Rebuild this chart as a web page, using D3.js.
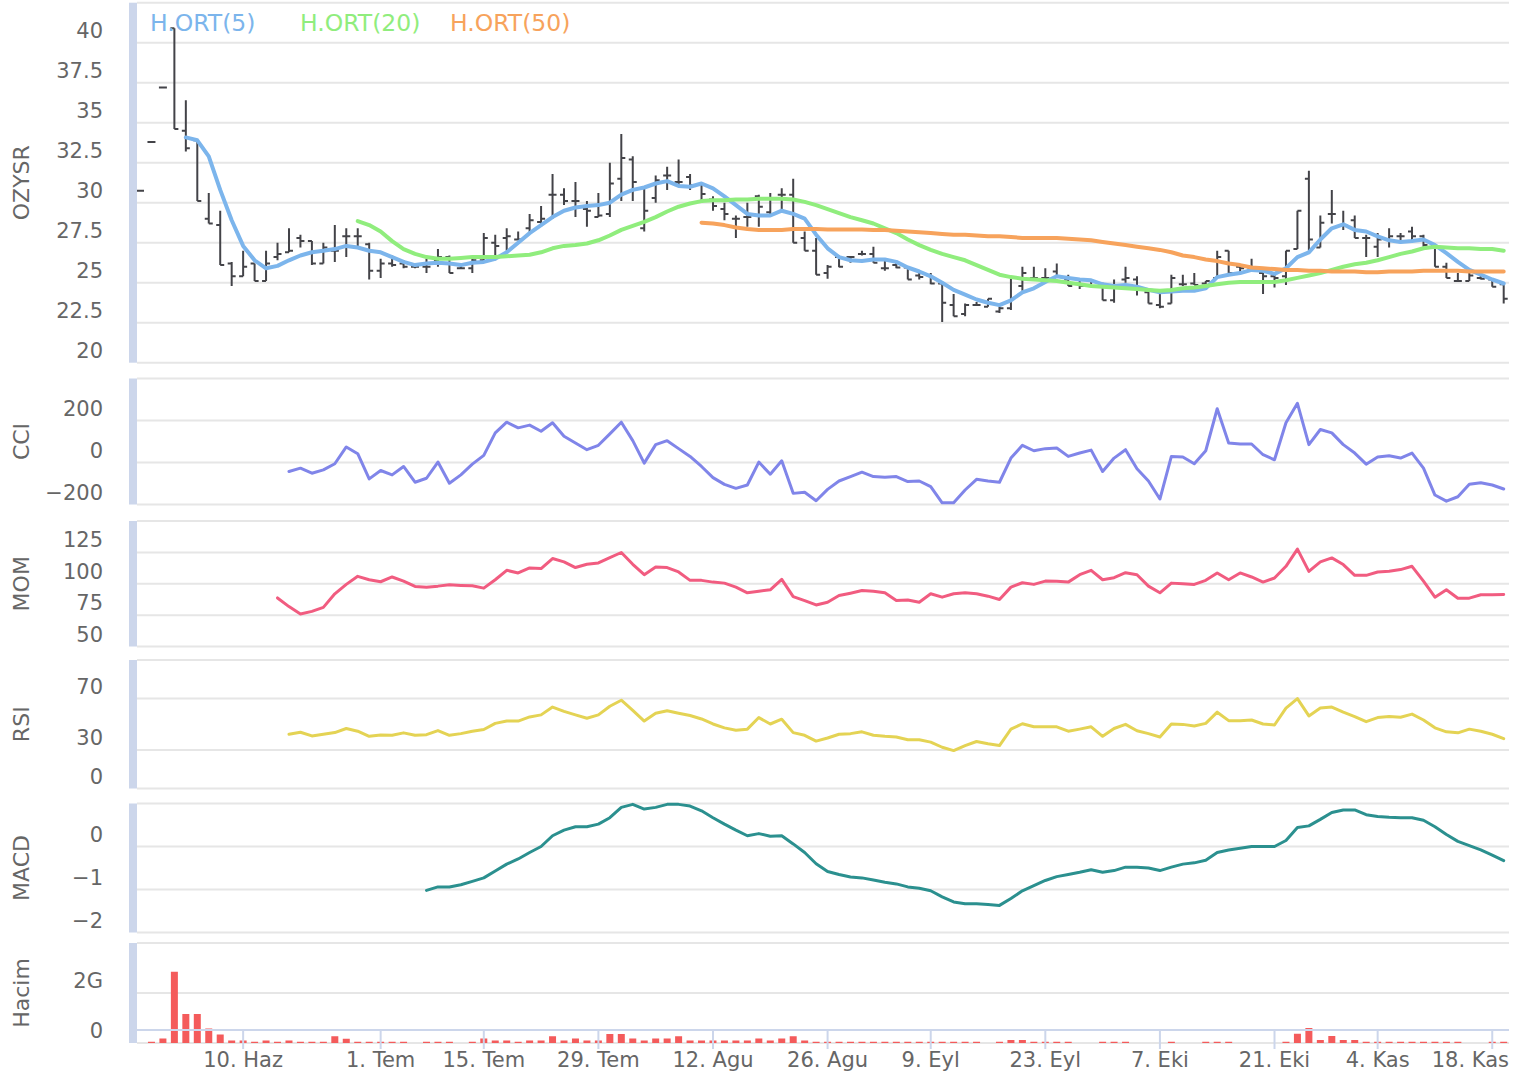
<!DOCTYPE html>
<html>
<head>
<meta charset="utf-8">
<script src="https://cdn.jsdelivr.net/npm/d3@7"></script>
<style>
  html, body { margin: 0; padding: 0; background: #fff; }
  svg { display: block; font-family: "DejaVu Sans", Verdana, sans-serif; }
</style>
</head>
<body>
<svg id="chart" width="1517" height="1073"></svg>
<script>
// x axis: trading day index -> label
const tickIndex = [9, 21, 30, 40, 50, 60, 69, 79, 89, 99, 108, 118];
const tickLabels = ['10. Haz', '1. Tem', '15. Tem', '29. Tem', '12. Agu', '26. Agu',
  '9. Eyl', '23. Eyl', '7. Eki', '21. Eki', '4. Kas', '18. Kas'];

// OZYSR daily OHLC (120 trading days)
const open = [30.75,33.8,37.2,40.9,34.5,33.9,29.0,28.6,26.2,25.4, 26.2,25.1,26.6,26.9,27.8,27.6,26.2,27.0,27.9,27.9,
  27.4,25.75,26.2,26.2,26.0,26.0,26.4,26.6,25.9,25.9, 26.4,27.5,27.8,27.7,28.4,28.8,30.5,30.5,30.1,29.6,
  29.1,29.3,31.5,32.7,28.4,30.3,31.7,31.3,31.6,31.1, 30.2,29.6,29.0,29.1,30.4,29.4,30.5,30.5,27.8,27.0,
  25.6,26.6,26.6,26.8,26.8,25.9,26.1,25.95,25.45,25.45, 24.95,23.6,23.05,23.6,23.5,23.2,23.4,24.8,25.3,25.3,
  25.7,25.2,24.95,25.1,24.75,23.9,25.2,25.2,24.4,23.6, 23.7,24.9,24.95,24.95,25.3,27.0,26.0,25.9,25.6,25.4,
  25.4,27.1,31.5,27.2,29.3,28.6,28.9,27.8,27.25,27.7, 27.9,28.2,27.9,27.3,26.0,25.1,25.1,25.3,25.2,24.9];
const high = [30.75,33.8,37.2,40.9,36.4,33.9,30.6,29.5,26.3,27.0, 26.2,27.0,27.5,28.4,28.0,27.6,27.5,28.6,28.4,28.4,
  27.5,26.5,26.7,26.4,26.2,26.5,27.1,26.7,26.1,26.6, 28.1,28.0,28.4,28.2,29.3,29.8,31.8,30.9,31.3,30.1,
  30.6,32.5,34.3,32.9,31.0,31.7,32.25,32.7,31.8,31.25, 30.4,30.0,29.2,30.0,30.5,30.6,30.9,31.5,28.2,27.8,
  26.1,26.7,26.6,27.0,27.25,26.5,26.3,25.95,25.7,25.6, 24.95,24.3,23.7,23.8,24.0,23.5,25.3,26.0,26.0,25.9,
  26.2,25.5,25.1,25.2,25.0,25.2,26.0,25.4,24.6,24.3, 25.5,25.5,25.6,25.1,27.0,27.0,26.0,26.5,25.7,25.5,
  27.0,29.5,32.0,29.2,30.8,29.5,29.2,28.0,28.1,28.4, 28.1,28.5,28.0,27.3,26.25,25.6,25.6,25.6,25.2,24.9];
const low = [30.75,33.8,37.2,34.6,33.2,30.1,28.7,26.1,24.8,25.4, 25.1,25.1,26.4,26.9,27.2,26.1,26.2,26.3,26.6,27.3,
  25.2,25.3,26.0,25.9,25.9,25.6,26.0,25.6,25.9,25.6, 26.3,26.4,27.0,27.7,28.1,28.5,29.0,29.85,29.1,28.5,
  29.1,29.1,30.1,30.1,28.2,30.0,30.8,31.0,30.8,30.0, 29.5,28.9,27.8,28.5,28.5,29.3,29.5,27.5,27.0,25.5,
  25.25,25.96,26.25,26.7,26.25,25.75,25.9,25.2,25.2,24.9, 22.55,22.9,22.9,23.6,23.5,23.1,23.3,24.5,25.1,25.3,
  25.4,24.8,24.6,24.9,23.9,23.75,25.0,24.2,23.7,23.4, 23.7,24.8,24.85,24.85,25.3,25.6,25.6,25.7,24.3,24.7,
  24.85,27.1,27.0,27.2,28.7,28.3,27.8,26.6,26.6,27.2, 27.5,27.6,27.25,26.0,25.3,25.1,25.1,25.2,24.75,23.7];
const close = [30.75,33.8,37.2,34.6,33.4,30.1,28.7,26.1,25.4,26.0, 25.1,26.2,26.8,27.0,27.6,26.2,27.2,27.0,27.9,27.9,
  25.75,26.2,26.1,26.0,26.0,26.0,26.6,25.6,25.9,26.4, 27.8,27.3,27.9,27.7,28.9,29.0,30.5,30.1,30.1,29.5,
  29.2,31.2,32.8,31.3,29.5,31.4,31.7,31.3,31.1,30.55, 29.8,29.3,29.0,29.1,29.75,30.3,30.5,27.5,27.0,25.5,
  26.0,26.0,26.6,26.8,26.25,25.9,25.95,25.2,25.35,24.95, 23.75,22.9,23.6,23.6,24.0,23.4,25.3,25.6,25.3,25.3,
  25.4,24.8,24.8,25.1,23.9,24.7,25.3,24.7,23.7,23.5, 25.3,24.9,24.85,25.1,26.6,25.6,25.9,25.8,25.4,25.3,
  27.0,29.5,27.7,28.75,29.3,28.6,27.8,27.8,27.7,27.9, 27.9,27.9,27.35,26.0,25.3,25.1,25.45,25.25,24.75,24.0];

// moving averages (first value sits at index *Start)
const sma5Start = 4;
const sma5 = [34.08,33.9,32.9,30.8,28.9,27.3,26.4,25.9,26.05,26.4, 26.7,26.9,27.0,27.1,27.3,27.2,27.0,26.9,26.6,26.3,
  26.1,26.2,26.25,26.2,26.1,26.25,26.3,26.5,26.9,27.5, 28.1,28.6,29.1,29.5,29.7,29.8,29.85,30.0,30.5,30.8,
  30.95,31.2,31.35,31.05,31.0,31.2,30.9,30.4,29.85,29.3, 29.2,29.2,29.5,29.3,29.0,28.0,27.15,26.6,26.4,26.35,
  26.45,26.45,26.3,25.95,25.7,25.4,25.0,24.55,24.25,23.95, 23.75,23.6,23.9,24.4,24.65,25.05,25.4,25.3,25.2,25.15,
  24.9,24.8,24.85,24.75,24.55,24.4,24.45,24.5,24.5,24.65, 25.35,25.5,25.6,25.8,25.75,25.55,25.9,26.6,26.9,27.7,
  28.4,28.65,28.3,28.2,27.9,27.65,27.55,27.6,27.7,27.35, 26.85,26.3,25.8,25.5,25.2,24.95];
const sma20Start = 19;
const sma20 = [28.85,28.6,28.2,27.6,27.1,26.8,26.6,26.5,26.5,26.55, 26.6,26.6,26.6,26.65,26.7,26.75,26.9,27.15,27.3,27.35,
  27.45,27.65,27.95,28.3,28.55,28.8,29.1,29.45,29.75,29.95, 30.1,30.15,30.15,30.2,30.2,30.25,30.25,30.25,30.2,30.05,
  29.85,29.6,29.35,29.1,28.9,28.7,28.4,28.1,27.7,27.35, 27.05,26.8,26.6,26.4,26.1,25.8,25.5,25.35,25.25,25.2,
  25.15,25.1,25.0,24.9,24.8,24.75,24.7,24.65,24.6,24.55, 24.5,24.55,24.65,24.7,24.8,24.9,25.0,25.05,25.05,25.05,
  25.05,25.15,25.3,25.45,25.6,25.8,26.0,26.15,26.25,26.4, 26.6,26.8,26.95,27.15,27.25,27.2,27.15,27.15,27.1,27.1,
  27.0];
const sma50Start = 49;
const sma50 = [28.75,28.7,28.6,28.45,28.35,28.3,28.3,28.3,28.35,28.35, 28.35,28.33,28.33,28.33,28.33,28.3,28.3,28.25,28.2,28.15,
  28.1,28.05,28.0,28.0,27.95,27.9,27.9,27.85,27.8,27.8, 27.8,27.8,27.75,27.7,27.65,27.55,27.45,27.35,27.25,27.15,
  27.05,26.9,26.7,26.6,26.45,26.35,26.2,26.1,25.95,25.9, 25.85,25.8,25.8,25.75,25.75,25.7,25.7,25.7,25.65,25.65,
  25.7,25.7,25.7,25.75,25.75,25.75,25.75,25.7,25.7,25.7, 25.7];

// indicators
const cciStart = 13;
const cci = [-43,-27,-51,-35,-6,74,42,-78,-38,-59, -19,-94,-75,2,-99,-59,-8,34,141,192,
  165,178,149,189,125,93,61,82,136,192, 104,-3,85,104,66,29,-19,-72,-104,-123,
  -107,2,-56,8,-147,-142,-182,-128,-88,-67, -46,-67,-70,-67,-91,-88,-115,-192,-192,-131,
  -80,-88,-94,21,82,56,66,69,29,45, 59,-43,21,61,-30,-88,-174,29,26,-6,
  56,256,93,88,88,37,13,189,282,85, 157,141,85,45,-8,26,32,21,45,-27,
  -155,-184,-163,-104,-96,-107,-126];
const momStart = 12;
const mom = [88.7,81.8,75.9,78.0,81.2,92.0,99.5,105.9,103.2,101.6, 105.4,102.1,97.9,97.3,98.1,99.2,98.7,98.4,96.5,103.2,
  110.7,108.6,112.6,112.1,120.1,117.4,112.9,115.5,116.6,120.9, 124.9,115.5,107.2,113.4,112.9,109.4,102.7,102.7,101.3,100.5,
  97.3,92.8,94.1,95.2,103.5,89.8,86.6,83.1,85.3,90.6, 92.5,94.6,94.1,92.8,86.6,87.1,85.3,92.0,89.3,92.0,
  92.8,92.0,90.1,87.4,97.3,100.8,99.5,102.1,101.9,101.3, 107.2,110.7,103.2,104.8,108.8,107.2,98.1,92.8,100.5,100,
  99.5,102.7,108.6,103.2,108.6,105.4,101.3,104.6,113.9,127.6, 109.9,117.4,120.6,115.3,106.7,106.7,109.4,109.9,111.3,113.9,
  102.1,89.3,95.2,88.5,88.5,91.2,91.2,91.4];
const rsiStart = 13;
const rsi = [42.2,43.8,40.9,42.2,43.5,46.7,44.6,40.6,41.7,41.4, 43.3,41.4,41.9,45.1,41.4,42.7,44.6,45.9,50.7,52.5,
  52.5,55.7,57.3,63.4,60,57.3,54.7,57.3,64,68.7, 60.8,52.5,58.6,60.5,58.6,56.8,54.1,50.2,47.2,45.4,
  46.2,55.2,50.2,53.9,43.5,41.4,36.9,39.3,42.2,42.7, 44.1,41.4,40.6,40.1,38,38,36.1,32.1,29.5,33.4,
  36.6,34.8,33.4,46.2,50.4,48,48,48,44.6,46.2, 48,40.6,46.7,49.9,44.9,42.7,40.1,50.2,49.9,48.6,
  50.7,59.4,52.8,52.8,53.3,50.2,49.4,62.6,70,56.5, 62.6,63.4,59.4,56,52,55.2,56,55.5,57.9,53.3,
  47.2,44.1,43.3,46.2,44.6,42.2,38.8];
const macdStart = 25;
const macd = [-1.02,-0.94,-0.94,-0.89,-0.81,-0.73,-0.57,-0.41,-0.29,-0.14, 0,0.25,0.38,0.46,0.46,0.52,0.67,0.91,0.98,0.87,
  0.91,0.98,0.98,0.94,0.83,0.67,0.52,0.38,0.25,0.30, 0.24,0.25,0.06,-0.14,-0.40,-0.58,-0.65,-0.71,-0.73,-0.78,
  -0.83,-0.87,-0.94,-0.97,-1.03,-1.17,-1.29,-1.33,-1.33,-1.35, -1.37,-1.21,-1.03,-0.91,-0.79,-0.70,-0.65,-0.60,-0.54,-0.60,
  -0.56,-0.48,-0.48,-0.50,-0.56,-0.48,-0.41,-0.38,-0.32,-0.14, -0.08,-0.04,0,0,0,0.14,0.44,0.48,0.63,0.79,
  0.85,0.85,0.74,0.70,0.68,0.67,0.67,0.61,0.46,0.28, 0.12,0.02,-0.08,-0.20,-0.33];

// volume, billions of shares
const volume = [0,0.05,0.18,2.85,1.16,1.16,0.58,0.34,0.1,0.1, 0.05,0.1,0.05,0.1,0.05,0.05,0.05,0.27,0.17,0.05,
  0.05,0.05,0.05,0.05,0,0.05,0.05,0.05,0,0.05, 0.18,0.1,0.1,0.05,0.1,0.1,0.27,0.1,0.18,0.1,
  0.1,0.36,0.36,0.18,0.1,0.18,0.18,0.27,0.1,0.1, 0.1,0.1,0.1,0.1,0.18,0.1,0.18,0.27,0.1,0.05,
  0.05,0.05,0.05,0.05,0.05,0.05,0.05,0.05,0.05,0.05, 0.05,0.05,0.05,0.05,0,0.05,0.12,0.12,0.05,0.05,
  0.05,0.05,0,0,0.05,0.05,0.05,0,0,0, 0.05,0,0,0.05,0.05,0.05,0,0,0,0,
  0.05,0.37,0.6,0.12,0.28,0.12,0.12,0.05,0.05,0.05, 0.05,0.05,0.05,0.05,0.05,0.05,0,0,0.05,0.05];

// y-axis ticks per pane
const priceTicks = [20, 22.5, 25, 27.5, 30, 32.5, 35, 37.5, 40, 42.5];
const cciTicks = [-200, 0, 200, 400];
const momTicks = [50, 75, 100, 125, 150];
const rsiTicks = [0, 30, 70, 100];
const macdTicks = [-2, -1, 0, 1];
const volumeTicks = [0, 2, 4];

const legendItems = ['H.ORT(5)', 'H.ORT(20)', 'H.ORT(50)'];

const svg = d3.select('#chart');
const plotLeft = 137, plotRight = 1509;
const x = d3.scaleLinear().domain([0, 119]).range([140, 1503.7]);

const minus = s => String(s).replace('-', '\u2212');

const panes = [
  { id: 'price', title: 'OZYSR', ticks: priceTicks, range: [362.7, 2.7], fmt: minus },
  { id: 'cci', title: 'CCI', ticks: cciTicks, range: [504.5, 378.5], fmt: minus },
  { id: 'mom', title: 'MOM', ticks: momTicks, range: [646.5, 521], fmt: minus },
  { id: 'rsi', title: 'RSI', ticks: rsiTicks, range: [788.5, 660], fmt: minus },
  { id: 'macd', title: 'MACD', ticks: macdTicks, range: [932.5, 803.5], fmt: minus },
  { id: 'vol', title: 'Hacim', ticks: volumeTicks, range: [1043, 943], fmt: v => v === 0 ? '0' : v + 'G' }
];

const defs = svg.append('defs');
panes.forEach(p => {
  p.y = d3.scaleLinear().domain(d3.extent(p.ticks)).range(p.range);
  const top = p.range[1], bottom = p.range[0];

  defs.append('clipPath').attr('id', 'clip-' + p.id)
    .append('rect')
    .attr('x', plotLeft).attr('y', top - 2)
    .attr('width', plotRight - plotLeft).attr('height', bottom - top + 4);

  // grid lines
  svg.append('g').selectAll('line')
    .data(p.ticks).join('line')
    .attr('x1', plotLeft).attr('x2', plotRight)
    .attr('y1', d => p.y(d)).attr('y2', d => p.y(d))
    .attr('stroke', '#e6e6e6').attr('stroke-width', 2);

  // left axis bar
  svg.append('rect')
    .attr('x', 129).attr('y', top)
    .attr('width', 8).attr('height', bottom - top)
    .attr('fill', '#ccd6eb');

  // tick labels (last one hidden)
  svg.append('g').selectAll('text')
    .data(p.ticks.slice(0, -1)).join('text')
    .attr('x', 103).attr('y', d => p.y(d) - 5)
    .attr('text-anchor', 'end')
    .attr('font-size', 21).attr('fill', '#666')
    .text(p.fmt);

  // pane title
  svg.append('text')
    .attr('transform', `translate(29,${(top + bottom) / 2}) rotate(-90)`)
    .attr('text-anchor', 'middle')
    .attr('font-size', 22).attr('fill', '#666')
    .text(p.title);

  p.g = svg.append('g').attr('clip-path', `url(#clip-${p.id})`);
});

const pane = id => panes.find(p => p.id === id);

// x axis
const xAxisY = 1030;
svg.append('line')
  .attr('x1', 129).attr('x2', plotRight)
  .attr('y1', xAxisY).attr('y2', xAxisY)
  .attr('stroke', '#ccd6eb').attr('stroke-width', 2);
svg.append('g').selectAll('line')
  .data(tickIndex).join('line')
  .attr('x1', d => x(d)).attr('x2', d => x(d))
  .attr('y1', xAxisY).attr('y2', xAxisY + 19)
  .attr('stroke', '#ccd6eb').attr('stroke-width', 2);
svg.append('g').selectAll('text')
  .data(tickIndex).join('text')
  .attr('x', d => x(d)).attr('y', 1067)
  .attr('text-anchor', 'middle')
  .attr('font-size', 21).attr('fill', '#666')
  .text((d, i) => tickLabels[i])
  .each(function (d) {
    // keep labels inside the plot, like justify overflow
    const half = this.getComputedTextLength() / 2;
    if (x(d) + half > plotRight) {
      d3.select(this).attr('text-anchor', 'end').attr('x', plotRight);
    }
  });

// OHLC bars
const price = pane('price');
const py = price.y;
price.g.append('g').selectAll('path')
  .data(d3.range(open.length)).join('path')
  .attr('d', i => {
    const cx = x(i);
    return `M${cx},${py(high[i])}L${cx},${py(low[i])}` +
      `M${cx - 4},${py(open[i])}L${cx},${py(open[i])}` +
      `M${cx},${py(close[i])}L${cx + 4},${py(close[i])}`;
  })
  .attr('stroke', '#434348').attr('stroke-width', 2).attr('fill', 'none');

function drawLine(p, values, start, color, width) {
  const line = d3.line().x((d, i) => x(start + i)).y(d => p.y(d));
  p.g.append('path')
    .datum(values)
    .attr('d', line)
    .attr('fill', 'none')
    .attr('stroke', color)
    .attr('stroke-width', width)
    .attr('stroke-linejoin', 'round')
    .attr('stroke-linecap', 'round');
}

drawLine(price, sma5, sma5Start, '#7cb5ec', 4);
drawLine(price, sma20, sma20Start, '#90ed7d', 4);
drawLine(price, sma50, sma50Start, '#f7a35c', 4);
drawLine(pane('cci'), cci, cciStart, '#8085e9', 3);
drawLine(pane('mom'), mom, momStart, '#f15c80', 3);
drawLine(pane('rsi'), rsi, rsiStart, '#e4d354', 3);
drawLine(pane('macd'), macd, macdStart, '#2b908f', 3);

// volume columns
const vol = pane('vol');
vol.g.append('g').selectAll('rect')
  .data(volume).join('rect')
  .attr('x', (d, i) => x(i) - 3.5)
  .attr('width', 7)
  .attr('y', d => vol.y(d))
  .attr('height', d => vol.y(0) - vol.y(d))
  .attr('fill', '#f45b5b');

// legend
const legendX = [150, 300, 450];
const legendColors = ['#7cb5ec', '#90ed7d', '#f7a35c'];
svg.append('g').selectAll('text')
  .data(legendItems).join('text')
  .attr('x', (d, i) => legendX[i]).attr('y', 31)
  .attr('font-size', 23.5)
  .attr('fill', (d, i) => legendColors[i])
  .text(d => d);
</script>
</body>
</html>
